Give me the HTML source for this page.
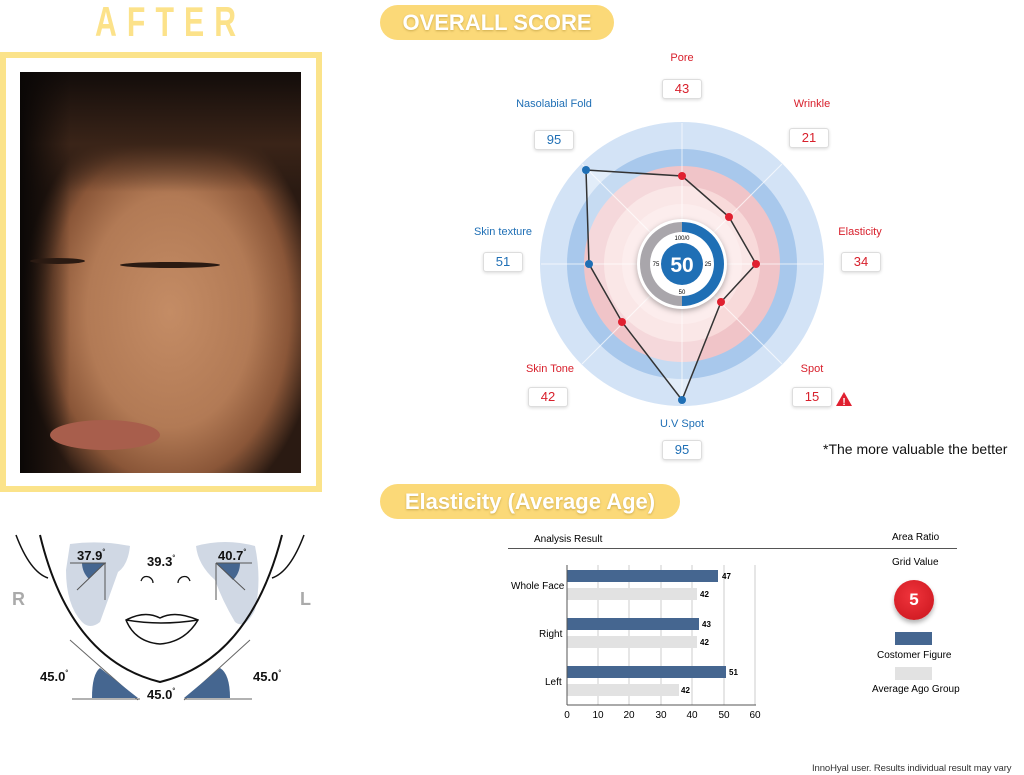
<!DOCTYPE html>
<html><head><meta charset="utf-8"><style>
html,body{margin:0;padding:0;background:#fff;}
body{width:1024px;height:775px;position:relative;overflow:hidden;font-family:"Liberation Sans",sans-serif;}
.abs{position:absolute;}
.pill{position:absolute;background:#fbd978;border-radius:18px;color:#fff;font-weight:bold;font-size:22px;text-align:center;text-shadow:0 1px 2px rgba(120,90,0,.35);}
</style></head><body>
<div class="abs" style="left:95px;top:0px;font-family:'Liberation Sans',sans-serif;font-size:42px;line-height:44px;font-weight:bold;color:#fce28a;letter-spacing:14px;transform:scaleX(0.72);transform-origin:0 0;white-space:nowrap;">AFTER</div>
<div class="abs" style="left:0;top:52px;width:310px;height:428px;border:6px solid #fbe38a;"></div>
<div class="abs" style="left:20px;top:72px;width:281px;height:401px;background:
radial-gradient(ellipse 150px 210px at 150px 240px,#c48c65 0%,#b27a55 55%,#8a5638 80%,#2a1a12 100%);"></div>
<div class="abs" style="left:20px;top:72px;width:281px;height:120px;background:linear-gradient(#120c0a,#3a2418 60%,rgba(0,0,0,0));"></div>
<div class="abs" style="left:20px;top:72px;width:50px;height:401px;background:linear-gradient(90deg,#0a0706,rgba(0,0,0,0));"></div>
<div class="abs" style="left:120px;top:262px;width:100px;height:6px;background:#2a1a12;border-radius:50%;"></div>
<div class="abs" style="left:30px;top:258px;width:55px;height:6px;background:#2a1a12;border-radius:50%;"></div>
<div class="abs" style="left:50px;top:420px;width:110px;height:30px;background:#a85e4c;border-radius:50%;"></div>

<svg class="abs" style="left:0;top:510px" width="340" height="200">
<path d="M70 34 Q100 30 130 36 Q128 55 118 62 Q108 90 100 112 Q90 120 82 112 Q66 95 66 60 Z" fill="#d0d8e4"/>
<path d="M196 36 Q225 28 255 36 Q262 70 255 100 Q245 120 235 112 Q222 90 215 70 Q198 55 196 36 Z" fill="#d0d8e4"/>
<path d="M105 53 L82 53 A23 23 0 0 0 89 69 Z" fill="#456690"/>
<line x1="70" y1="53" x2="106" y2="53" stroke="#555"/><line x1="105" y1="53" x2="105" y2="90" stroke="#555"/><line x1="105" y1="53" x2="77" y2="80" stroke="#555"/>
<path d="M216 53 L240 53 A24 24 0 0 1 233 70 Z" fill="#456690"/>
<line x1="216" y1="53" x2="252" y2="53" stroke="#555"/><line x1="216" y1="53" x2="216" y2="90" stroke="#555"/><line x1="216" y1="53" x2="245" y2="80" stroke="#555"/>
<path d="M16 25 Q30 62 48 68" fill="none" stroke="#111" stroke-width="1.5"/>
<path d="M304 25 Q290 62 272 68" fill="none" stroke="#111" stroke-width="1.5"/>
<path d="M40 25 Q70 150 160 172 Q250 150 282 25" fill="none" stroke="#111" stroke-width="2"/>
<path d="M141 71 q2 -6 8 -4 q4 2 4 6 M178 73 q0 -4 4 -6 q6 -2 8 4" fill="none" stroke="#111" stroke-width="1.3"/>
<path d="M126 110 Q145 100 160 108 Q175 100 198 110 Q185 132 160 134 Q135 132 126 110Z M126 110 Q160 116 198 110" fill="#fff" stroke="#111" stroke-width="1.5"/>
<line x1="70" y1="130" x2="138" y2="190" stroke="#666"/><line x1="250" y1="130" x2="184" y2="190" stroke="#666"/>
<path d="M92 188 Q92 164 100 158 L138 188Z" fill="#456690"/>
<path d="M230 188 Q230 164 220 158 L184 188Z" fill="#456690"/>
<line x1="72" y1="189" x2="140" y2="189" stroke="#666"/><line x1="184" y1="189" x2="252" y2="189" stroke="#666"/>
<g font-family="Liberation Sans" font-weight="bold" font-size="13" fill="#111">
<text x="77" y="50">37.9<tspan font-size="7" dy="-6">°</tspan></text><text x="218" y="50">40.7<tspan font-size="7" dy="-6">°</tspan></text><text x="147" y="56">39.3<tspan font-size="7" dy="-6">°</tspan></text>
<text x="40" y="171">45.0<tspan font-size="7" dy="-6">°</tspan></text><text x="253" y="171">45.0<tspan font-size="7" dy="-6">°</tspan></text><text x="147" y="189">45.0<tspan font-size="7" dy="-6">°</tspan></text></g>
<text x="12" y="95" font-size="18" font-weight="bold" fill="#aaa">R</text>
<text x="300" y="95" font-size="18" font-weight="bold" fill="#aaa">L</text>
</svg>

<div class="pill" style="left:380px;top:5px;width:234px;height:35px;line-height:35px;">OVERALL SCORE</div>
<div class="pill" style="left:380px;top:484px;width:300px;height:35px;line-height:35px;">Elasticity (Average Age)</div>

<svg class="abs" style="left:460px;top:45px" width="420" height="420" font-family="Liberation Sans">
<g transform="translate(222,219)">
<circle r="142" fill="#d3e3f6"/>
<circle r="115" fill="#a8c8ec"/>
<circle r="98" fill="#f0c4c8"/>
<circle r="78" fill="#f8dada"/>
<circle r="60" fill="#fbe4e4"/>
<g stroke="#fff" stroke-width="1" opacity=".7"><line x1="-141" y1="0" x2="141" y2="0"/><line x1="0" y1="-141" x2="0" y2="141"/><line x1="-100" y1="-100" x2="100" y2="100"/><line x1="-100" y1="100" x2="100" y2="-100"/></g>
<polygon points="-96,-94 0,-88 47,-47 74,0 39,38 0,136 -60,58 -93,0" fill="rgba(255,255,255,.35)" stroke="#333" stroke-width="1.5"/>
<g fill="#1f6fb5"><circle cx="-96" cy="-94" r="4"/><circle cx="-93" cy="0" r="4"/><circle cx="0" cy="136" r="4"/></g>
<g fill="#e02030"><circle cx="0" cy="-88" r="4"/><circle cx="47" cy="-47" r="4"/><circle cx="74" cy="0" r="4"/><circle cx="39" cy="38" r="4"/><circle cx="-60" cy="58" r="4"/></g>
<circle r="45" fill="#fff" filter="drop-shadow(0 2px 3px rgba(0,0,0,.3))"/>
<path d="M0 -42 A42 42 0 0 1 0 42 L0 32 A32 32 0 0 0 0 -32Z" fill="#1f6fb5"/>
<path d="M0 -42 A42 42 0 0 0 0 42 L0 32 A32 32 0 0 1 0 -32Z" fill="#a9a6ab"/>
<circle r="30" fill="#fff"/>
<circle r="21" fill="#1f6fb5"/>
<text y="8" text-anchor="middle" fill="#fff" font-size="21" font-weight="bold">50</text>
<text y="-24" text-anchor="middle" font-size="6">100/0</text><text y="30" text-anchor="middle" font-size="6">50</text>
<text x="-26" y="2" text-anchor="middle" font-size="6">75</text><text x="26" y="2" text-anchor="middle" font-size="6">25</text>
</g></svg>

<div class="abs" style="left:0;top:0;width:1024px;height:775px;font-size:11px;">
<style>.lb{position:absolute;text-align:center;width:120px;}.bx{position:absolute;width:38px;height:18px;border:1px solid #ddd;border-radius:3px;box-shadow:0 1px 3px rgba(0,0,0,.15);text-align:center;line-height:18px;font-size:13px;background:#fff;}.r{color:#d8202c}.b{color:#1f6fb5}</style>
<div class="lb r" style="left:622px;top:52px">Pore</div><div class="bx r" style="left:662px;top:79px">43</div>
<div class="lb r" style="left:752px;top:98px">Wrinkle</div><div class="bx r" style="left:789px;top:128px">21</div>
<div class="lb b" style="left:494px;top:98px">Nasolabial Fold</div><div class="bx b" style="left:534px;top:130px">95</div>
<div class="lb r" style="left:800px;top:226px">Elasticity</div><div class="bx r" style="left:841px;top:252px">34</div>
<div class="lb b" style="left:443px;top:226px">Skin texture</div><div class="bx b" style="left:483px;top:252px">51</div>
<div class="lb r" style="left:490px;top:363px">Skin Tone</div><div class="bx r" style="left:528px;top:387px">42</div>
<div class="lb r" style="left:752px;top:363px">Spot</div><div class="bx r" style="left:792px;top:387px">15</div>
<svg class="abs" style="left:835px;top:391px" width="18" height="16"><path d="M9 1 L17 15 L1 15Z" fill="#e02030"/><text x="9" y="14" font-size="10" fill="#fff" text-anchor="middle" font-weight="bold">!</text></svg>
<div class="lb b" style="left:622px;top:418px">U.V Spot</div><div class="bx b" style="left:662px;top:440px">95</div>
<div class="abs" style="left:823px;top:441px;font-size:14px;color:#111;white-space:nowrap">*The more valuable the better</div>
<div class="abs" style="left:534px;top:534px;font-size:10px">Analysis Result</div>
<div class="abs" style="left:892px;top:532px;font-size:10px">Area Ratio</div>
<div class="abs" style="left:508px;top:548px;width:449px;height:1px;background:#555"></div>
<div class="abs" style="left:892px;top:557px;font-size:10px">Grid Value</div>
<div class="abs" style="left:894px;top:580px;width:40px;height:40px;border-radius:50%;background:radial-gradient(circle at 45% 40%,#f0343c,#c8141c);box-shadow:0 3px 5px rgba(0,0,0,.3);color:#fff;font-weight:bold;font-size:17px;text-align:center;line-height:40px">5</div>
<div class="abs" style="left:895px;top:632px;width:37px;height:13px;background:#456690"></div>
<div class="abs" style="left:877px;top:650px;font-size:10px;white-space:nowrap">Costomer Figure</div>
<div class="abs" style="left:895px;top:667px;width:37px;height:13px;background:#e2e2e2"></div>
<div class="abs" style="left:872px;top:684px;font-size:10px;white-space:nowrap">Average Ago Group</div>
</div>
<svg class="abs" style="left:500px;top:555px" width="300" height="170" font-family="Liberation Sans">
<g stroke="#ccc"><line x1="98" y1="10" x2="98" y2="150"/><line x1="129" y1="10" x2="129" y2="150"/><line x1="161" y1="10" x2="161" y2="150"/><line x1="192" y1="10" x2="192" y2="150"/><line x1="224" y1="10" x2="224" y2="150"/><line x1="255" y1="10" x2="255" y2="150"/></g>
<g fill="#456690"><rect x="67" y="15" width="151" height="12"/><rect x="67" y="63" width="132" height="12"/><rect x="67" y="111" width="159" height="12"/></g>
<g fill="#e2e2e2"><rect x="67" y="33" width="130" height="12"/><rect x="67" y="81" width="130" height="12"/><rect x="67" y="129" width="112" height="12"/></g>
<line x1="67" y1="10" x2="67" y2="150" stroke="#555"/><line x1="67" y1="150" x2="256" y2="150" stroke="#555"/>
<g font-size="8" font-weight="bold"><text x="222" y="24">47</text><text x="200" y="42">42</text><text x="202" y="72">43</text><text x="200" y="90">42</text><text x="229" y="120">51</text><text x="181" y="138">42</text></g>
<g font-size="10"><text x="11" y="34">Whole Face</text><text x="39" y="82">Right</text><text x="45" y="130">Left</text></g>
<g font-size="10" text-anchor="middle"><text x="67" y="163">0</text><text x="98" y="163">10</text><text x="129" y="163">20</text><text x="161" y="163">30</text><text x="192" y="163">40</text><text x="224" y="163">50</text><text x="255" y="163">60</text></g>
</svg>
<div class="abs" style="left:812px;top:763px;font-size:9.5px;color:#333;white-space:nowrap;letter-spacing:-0.1px">InnoHyal user. Results individual result may vary</div>
</body></html>
